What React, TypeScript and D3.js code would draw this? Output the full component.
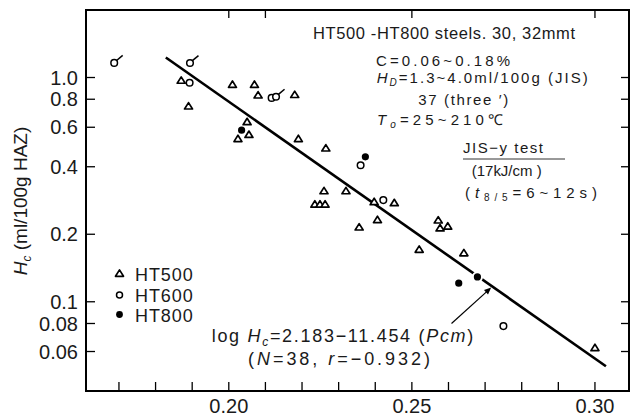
import React from "react";
import * as d3 from "d3";

// HT500 (open triangles)
const ht500Pcm = [0.187, 0.189, 0.201, 0.207, 0.208, 0.218, 0.205, 0.2025, 0.2055, 0.219, 0.2265, 0.226, 0.232, 0.2235, 0.2249, 0.2263, 0.2397, 0.2452, 0.2406, 0.2356, 0.2572, 0.2577, 0.2598, 0.252, 0.2642, 0.3];
const ht500Hc = [0.97, 0.745, 0.93, 0.93, 0.834, 0.838, 0.634, 0.533, 0.556, 0.533, 0.484, 0.312, 0.312, 0.272, 0.272, 0.272, 0.279, 0.276, 0.232, 0.215, 0.231, 0.213, 0.217, 0.171, 0.165, 0.0623];

// HT600 (open circles), flag = value given as lower bound
const ht600Pcm = [0.1687, 0.1894, 0.1893, 0.2117, 0.2129, 0.236, 0.2422, 0.275];
const ht600Hc = [1.162, 1.16, 0.948, 0.811, 0.821, 0.406, 0.284, 0.0779];
const ht600Flag = [true, true, false, false, true, false, false, false];

// HT800 (filled circles)
const ht800Pcm = [0.2035, 0.2373, 0.2679, 0.2628];
const ht800Hc = [0.582, 0.443, 0.129, 0.121];

const xTickValues = d3.range(17, 31).map((d) => d / 100);
const xLabelValues = [0.2, 0.25, 0.3];
const xLabels = ["0.20", "0.25", "0.30"];
const xTopTicks = [0.2, 0.21, 0.25, 0.3];
const yTickValues = [0.06, 0.08, 0.1, 0.2, 0.4, 0.6, 0.8, 1.0];
const yLabels = ["0.06", "0.08", "0.1", "0.2", "0.4", "0.6", "0.8", "1.0"];

// log Hc = 2.183 - 11.454 (Pcm)
const fitA = 2.183;
const fitB = -11.454;
const fitRange = [0.1828, 0.303];

const FONT = "'Liberation Sans', Arial, sans-serif";
const INK = "#1a1a1a";

const left = 86, right = 629, top = 10, bottom = 391;

export default function App() {
  const x = d3.scaleLinear().domain([0.161, 0.3093]).range([left, right]);
  const y = d3.scaleLog().domain([0.04, 2.0]).range([bottom, top]);
  const fit = (p: number) => Math.pow(10, fitA + fitB * p);

  const fitLine = d3.line<number>()
    .x((p) => x(p))
    .y((p) => y(fit(p)));

  const tri = (cx: number, cy: number) =>
    `M${cx},${cy - 3.6}L${cx + 4},${cy + 2.8}L${cx - 4},${cy + 2.8}Z`;

  // arrow pointing at the fit line
  const arrowTipP = 0.2718;
  const tipX = x(arrowTipP) - 0.5;
  const tipY = y(fit(arrowTipP)) + 1.5;
  const tailX = 451.5, tailY = 323.5;
  const ang = Math.atan2(tipY - tailY, tipX - tailX);
  const ah = 7, aw = 3;
  const ax1 = tipX - ah * Math.cos(ang) + aw * Math.sin(ang);
  const ay1 = tipY - ah * Math.sin(ang) - aw * Math.cos(ang);
  const ax2 = tipX - ah * Math.cos(ang) - aw * Math.sin(ang);
  const ay2 = tipY - ah * Math.sin(ang) + aw * Math.cos(ang);

  return (
    <svg width={630} height={420} style={{ position: "absolute", left: 0, top: 0, background: "#fff" }} fontFamily={FONT}>
      {/* frame */}
      <rect x={left} y={top} width={right - left} height={bottom - top} fill="none" stroke="#000" strokeWidth={2} />

      {/* x ticks */}
      {xTickValues.map((v) => (
        <line key={"xb" + v} x1={x(v)} x2={x(v)} y1={bottom} y2={bottom - 9} stroke="#000" strokeWidth={1.3} />
      ))}
      {xTopTicks.map((v) => (
        <line key={"xt" + v} x1={x(v)} x2={x(v)} y1={top} y2={top + 8} stroke="#000" strokeWidth={1.3} />
      ))}
      {xLabelValues.map((v, i) => (
        <text key={"xl" + v} x={x(v)} y={413} textAnchor="middle" fontSize={20} fill={INK}>{xLabels[i]}</text>
      ))}

      {/* y ticks */}
      {yTickValues.map((v) => (
        <g key={"y" + v}>
          <line x1={left} x2={left + 9} y1={y(v)} y2={y(v)} stroke="#000" strokeWidth={1.3} />
          <line x1={right} x2={right - 8} y1={y(v)} y2={y(v)} stroke="#000" strokeWidth={1.3} />
        </g>
      ))}
      {yTickValues.map((v, i) => (
        <text key={"yl" + v} x={78} y={y(v)} dy="0.36em" textAnchor="end" fontSize={20} fill={INK}>{yLabels[i]}</text>
      ))}

      {/* y axis title */}
      <text transform="translate(27,201) rotate(-90)" textAnchor="middle" fontSize={19} fill={INK}>
        <tspan fontStyle="italic">H</tspan>
        <tspan fontSize={12} dy={4} fontStyle="italic">c</tspan>
        <tspan dy={-4}> (ml/100g HAZ)</tspan>
      </text>

      {/* regression line */}
      <path d={fitLine(fitRange) || ""} fill="none" stroke="#000" strokeWidth={2.6} />

      {/* arrow */}
      <line x1={tailX} y1={tailY} x2={tipX - 3 * Math.cos(ang)} y2={tipY - 3 * Math.sin(ang)} stroke="#000" strokeWidth={1.2} />
      <path d={`M${tipX},${tipY}L${ax1},${ay1}L${ax2},${ay2}Z`} fill="#000" />

      {/* HT800 */}
      {ht800Pcm.map((p, i) => (
        <circle key={"c8" + i} cx={x(p)} cy={y(ht800Hc[i])} r={4.6} fill="#000" stroke="#fff" strokeWidth={2} />
      ))}

      {/* HT500 */}
      {ht500Pcm.map((p, i) => (
        <path key={"t5" + i} d={tri(x(p), y(ht500Hc[i]))} fill="#fff" stroke="#000" strokeWidth={1.7} strokeLinejoin="round" />
      ))}

      {/* HT600 */}
      {ht600Pcm.map((p, i) => {
        const cx = x(p), cy = y(ht600Hc[i]);
        return (
          <g key={"c6" + i}>
            <circle cx={cx} cy={cy} r={3.3} fill="#fff" stroke="#000" strokeWidth={1.5} />
            {ht600Flag[i] && (
              <line x1={cx + 2.4} y1={cy - 2.4} x2={cx + 8.5} y2={cy - 7.5} stroke="#000" strokeWidth={1.5} />
            )}
          </g>
        );
      })}

      {/* legend */}
      <path d={tri(119.5, 273.5)} fill="#fff" stroke="#000" strokeWidth={1.7} strokeLinejoin="round" />
      <circle cx={119.5} cy={295} r={3} fill="#fff" stroke="#000" strokeWidth={1.5} />
      <circle cx={119.5} cy={314.5} r={3.4} fill="#000" />
      <text x={135} y={280.7} fontSize={18} fill={INK} textLength={57.7}>HT500</text>
      <text x={135} y={301.7} fontSize={18} fill={INK} textLength={57.7}>HT600</text>
      <text x={135} y={321.7} fontSize={18} fill={INK} textLength={57.7}>HT800</text>

      {/* equation */}
      <text x={211.7} y={342} fontSize={18} fill={INK} textLength={261.6}>
        <tspan>log  </tspan>
        <tspan fontStyle="italic">H</tspan>
        <tspan fontSize={12} dy={4} fontStyle="italic">c</tspan>
        <tspan dy={-4}>{"=2.183\u221211.454 ("}</tspan>
        <tspan fontStyle="italic">Pcm</tspan>
        <tspan>)</tspan>
      </text>
      <text x={248} y={365} fontSize={18} fill={INK} textLength={182}>
        <tspan>(</tspan>
        <tspan fontStyle="italic">N</tspan>
        <tspan>=38, </tspan>
        <tspan fontStyle="italic">r</tspan>
        <tspan>{"=\u22120.932)"}</tspan>
      </text>

      {/* conditions */}
      <text x={313} y={39.3} fontSize={16.5} fill={INK} textLength={262}>HT500 -HT800 steels. 30, 32mmt</text>
      <text x={376} y={65.5} fontSize={15} fill={INK} textLength={134}>C=0.06~0.18%</text>
      <text x={376.7} y={83} fontSize={15} fill={INK} textLength={211}>
        <tspan fontStyle="italic">H</tspan>
        <tspan fontSize={10} dy={3} fontStyle="italic">D</tspan>
        <tspan dy={-3}>=1.3~4.0ml/100g (JIS)</tspan>
      </text>
      <text x={418.3} y={105} fontSize={15} fill={INK} textLength={90}>{"37 (three  \u2032)"}</text>
      <text x={377} y={125} fontSize={15} fill={INK} textLength={126}>
        <tspan fontStyle="italic">T</tspan>
        <tspan fontSize={10} dy={3} fontStyle="italic">o</tspan>
        <tspan dy={-3}>{"=25~210\u2103"}</tspan>
      </text>
      <text x={463} y={152.7} fontSize={15} fill={INK} textLength={80}>{"JIS\u2212y test"}</text>
      <line x1={463} x2={565} y1={159} y2={159} stroke="#333" strokeWidth={1} />
      <text x={471.7} y={176} fontSize={15} fill={INK} textLength={70}>(17kJ/cm )</text>
      <text x={465} y={197.5} fontSize={15} fill={INK} textLength={132}>
        <tspan>(</tspan>
        <tspan fontStyle="italic">t</tspan>
        <tspan fontSize={10} dy={3}>8/5</tspan>
        <tspan dy={-3}>=6~12s)</tspan>
      </text>
    </svg>
  );
}
